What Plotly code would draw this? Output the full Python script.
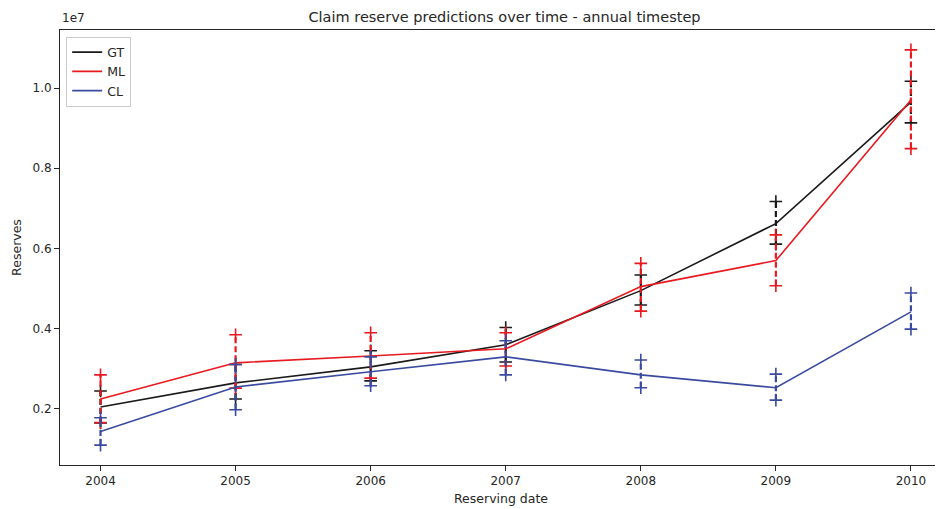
import plotly.graph_objects as go

years = [2004, 2005, 2006, 2007, 2008, 2009, 2010]

gt = [2.05e6, 2.65e6, 3.05e6, 3.60e6, 4.95e6, 6.62e6, 9.65e6]
ml = [2.25e6, 3.15e6, 3.32e6, 3.50e6, 5.05e6, 5.70e6, 9.70e6]
cl = [1.44e6, 2.55e6, 2.93e6, 3.30e6, 2.85e6, 2.53e6, 4.42e6]

gt_lo = [1.65e6, 2.25e6, 2.70e6, 3.17e6, 4.59e6, 6.11e6, 9.13e6]
gt_hi = [2.45e6, 3.11e6, 3.45e6, 4.03e6, 5.34e6, 7.17e6, 10.17e6]
ml_lo = [1.66e6, 2.52e6, 2.77e6, 3.07e6, 4.44e6, 5.07e6, 8.49e6]
ml_hi = [2.85e6, 3.85e6, 3.90e6, 3.90e6, 5.63e6, 6.34e6, 10.95e6]
cl_lo = [1.10e6, 1.98e6, 2.58e6, 2.85e6, 2.53e6, 2.22e6, 3.99e6]
cl_hi = [1.78e6, 3.11e6, 3.30e6, 3.70e6, 3.22e6, 2.87e6, 4.89e6]

ytick_vals = [0.2e7, 0.4e7, 0.6e7, 0.8e7, 1.0e7]
ytick_text = ["0.2", "0.4", "0.6", "0.8", "1.0"]

names = ["GT", "ML", "CL"]
colors = ["#1a1a1a", "#e8191f", "#3a4aa0"]
series = [gt, ml, cl]
lows = [gt_lo, ml_lo, cl_lo]
highs = [gt_hi, ml_hi, cl_hi]

fig = go.Figure()
for name, col, vals, lo, hi in zip(names, colors, series, lows, highs):
    fig.add_trace(go.Scatter(x=years, y=vals, mode="lines", name=name,
                             line=dict(color=col, width=1.6)))
    for yr, a, b in zip(years, lo, hi):
        fig.add_trace(go.Scatter(x=[yr, yr], y=[a, b], mode="lines", showlegend=False,
                                 line=dict(color=col, width=2.2, dash="6px,3px")))
        fig.add_trace(go.Scatter(x=[yr, yr], y=[a, b], mode="markers", showlegend=False,
                                 marker=dict(symbol="cross-thin", size=9,
                                             line=dict(color=col, width=1.6))))

font = "DejaVu Sans, sans-serif"
# The page body has an 8px margin: the figure is sized so it fits the 943x509 window.
fig.update_layout(
    width=935, height=501,
    margin=dict(l=52, r=1, t=22, b=44),
    paper_bgcolor="white", plot_bgcolor="white",
    font=dict(family=font, size=12, color="#262626"),
    title=dict(text="Claim reserve predictions over time - annual timestep",
               x=0.531, xanchor="center", y=0.983, yanchor="middle",
               font=dict(size=14.5, color="#262626")),
    legend=dict(x=0.007, y=0.985, xanchor="left", yanchor="top",
                bgcolor="white", bordercolor="#cccccc", borderwidth=1,
                font=dict(size=12.5), tracegroupgap=0, itemwidth=30),
    showlegend=True,
)
fig.update_xaxes(range=[2003.7, 2010.23], tickvals=years,
                 ticktext=[str(y) for y in years],
                 showgrid=False, zeroline=False,
                 showline=True, linecolor="#262626", linewidth=1, mirror=True,
                 ticks="outside", ticklen=5, tickcolor="#262626",
                 title=dict(text="Reserving date", font=dict(size=12.5), standoff=6))
fig.update_yaxes(range=[0.0604e7, 1.1446e7], tickvals=ytick_vals, ticktext=ytick_text,
                 showgrid=False, zeroline=False,
                 showline=True, linecolor="#262626", linewidth=1, mirror=True,
                 ticks="outside", ticklen=5, tickcolor="#262626",
                 title=dict(text="Reserves", font=dict(size=12.5), standoff=8))
fig.add_annotation(text="1e7", xref="paper", yref="paper", x=0.0, y=1.0,
                   xanchor="left", yanchor="bottom", yshift=3, showarrow=False,
                   font=dict(size=12, color="#262626"))
fig.write_html("out.html")
